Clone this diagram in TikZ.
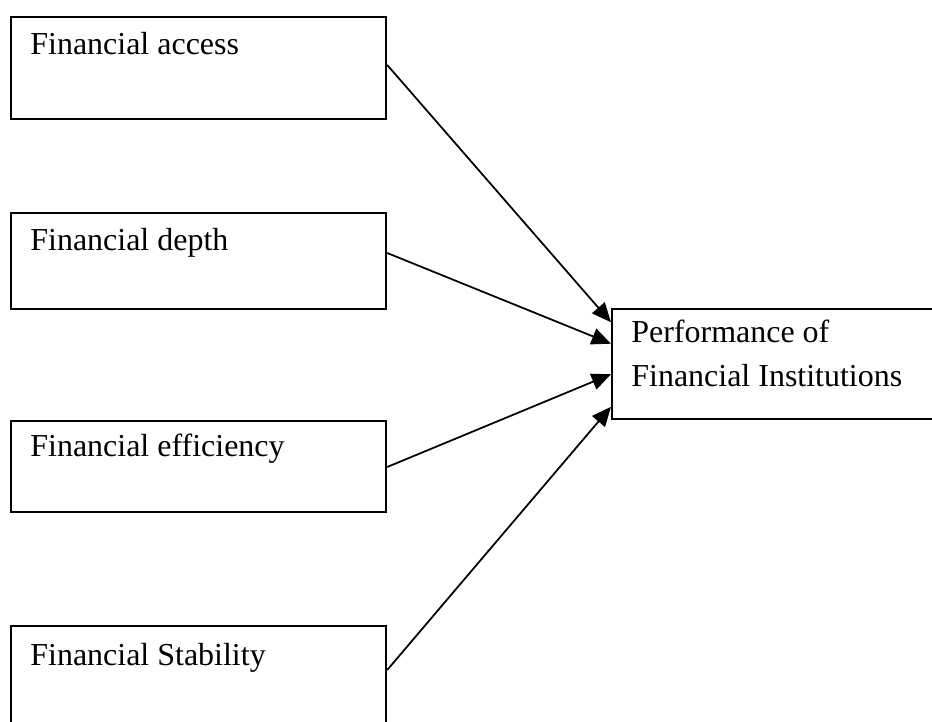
\documentclass[tikz,border=0pt]{standalone}
\usepackage{fontspec}
\setmainfont{Liberation Serif}
\usetikzlibrary{arrows.meta, calc, positioning}

\begin{document}
\begin{tikzpicture}[x=0.02cm, y=-0.02cm,
    box/.style={draw, line width=1.3pt, anchor=north west, minimum width=7.5cm, inner sep=0pt},
    txt/.style={anchor=base west, inner sep=0pt, font=\fontsize{18.2}{24}\selectfont},
    link/.style={-{Triangle[length=11pt, width=9.5pt]}, line width=1pt}]
    \useasboundingbox (0,0) rectangle (932,722);
    \clip (0,0) rectangle (932,722);

    % Einflussfaktoren (links)
    \node[box, minimum height=2.04cm] (access) at (10,16) {};
    \node[box, minimum height=1.92cm] (depth) at (10,212) {};
    \node[box, minimum height=1.82cm] (effic) at (10,420) {};
    \node[box, minimum height=2.4cm] (stab) at (10,625) {};

    \node[txt] (accesstxt) at ($(access.north west)+(20,39)$) {Financial access};
    \node[txt] (depthtxt) at ($(depth.north west)+(20,39)$) {Financial depth};
    \node[txt] (effictxt) at ($(effic.north west)+(20,36)$) {Financial efficiency};
    \node[txt] (stabtxt) at ($(stab.north west)+(20,40)$) {Financial Stability};

    % Zielgroesse (rechts)
    \node[box, minimum width=6.6cm, minimum height=2.2cm] (perf) at (611,308) {};
    \node[txt] (perftxta) at ($(perf.north west)+(20,35)$) {Performance of};
    \node[txt] (perftxtb) at ($(perf.north west)+(20,78)$) {Financial Institutions};

    % Pfeile
    \draw[link] ($(access.north east)+(0,49)$) -- ($(perf.north west)!0.127!(perf.south west)$);
    \draw[link] ($(depth.north east)+(0,41)$) -- ($(perf.north west)!0.318!(perf.south west)$);
    \draw[link] ($(effic.north east)+(0,47)$) -- ($(perf.north west)!0.59!(perf.south west)$);
    \draw[link] ($(stab.north east)+(0,45)$) -- ($(perf.north west)!0.88!(perf.south west)$);

\end{tikzpicture}
\end{document}
